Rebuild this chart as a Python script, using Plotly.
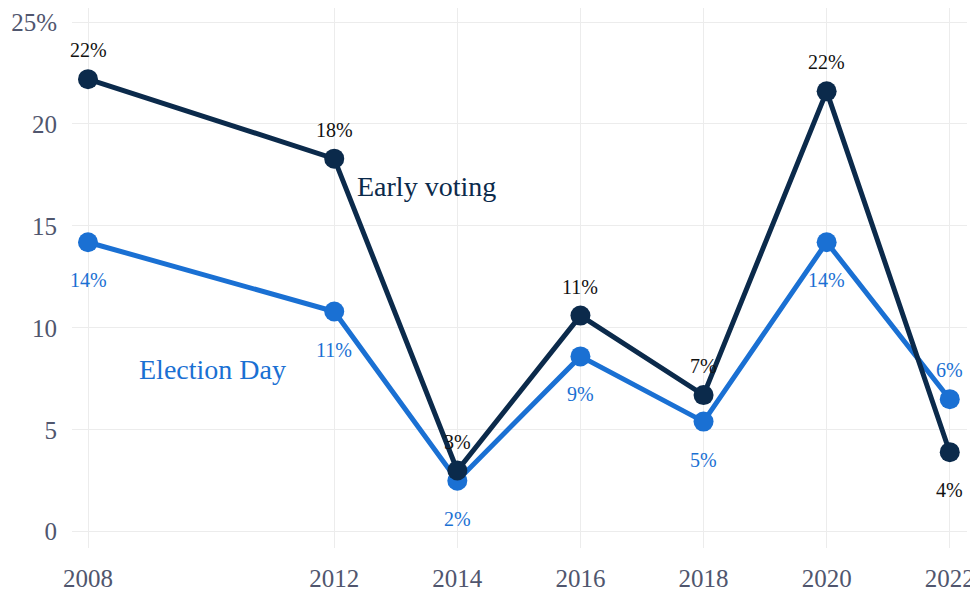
import plotly.graph_objects as go

years = [2008, 2012, 2014, 2016, 2018, 2020, 2022]
early_voting = [22.2, 18.3, 3.0, 10.6, 6.7, 21.6, 3.9]
election_day = [14.2, 10.8, 2.5, 8.6, 5.4, 14.2, 6.5]
early_labels = ["22%", "18%", "3%", "11%", "7%", "22%", "4%"]
day_labels = ["14%", "11%", "2%", "9%", "5%", "14%", "6%"]
early_above = [True, True, True, True, True, True, False]
day_above = [False, False, False, False, False, False, True]
y_ticks = [0, 5, 10, 15, 20, 25]
y_ticktext = ["0", "5", "10", "15", "20", "25%"]

NAVY = "#0b2a4b"
BLUE = "#1a70d3"
FONT = "Liberation Serif"

fig = go.Figure()
for values, color in [(election_day, BLUE), (early_voting, NAVY)]:
    fig.add_trace(go.Scatter(
        x=years, y=values, mode="lines+markers",
        line=dict(color=color, width=5),
        marker=dict(color=color, size=20),
        cliponaxis=False, showlegend=False, hoverinfo="x+y",
    ))

# point labels, placed above or below each marker
for values, labels, above, color in [
    (early_voting, early_labels, early_above, "#111111"),
    (election_day, day_labels, day_above, BLUE),
]:
    for x, y, t, up in zip(years, values, labels, above):
        fig.add_annotation(x=x, y=y, text=t, showarrow=False,
                           yshift=29 if up else -38,
                           font=dict(color=color, size=20, family=FONT))

fig.add_annotation(x=2013.5, y=16.95, text="Early voting", showarrow=False,
                   font=dict(color=NAVY, size=28, family=FONT))
fig.add_annotation(x=2010.02, y=7.95, text="Election Day", showarrow=False,
                   font=dict(color=BLUE, size=28, family=FONT))

# page body has an 8px margin, so the figure is sized/offset to compensate
fig.update_layout(
    width=970, height=589,
    margin=dict(l=64, r=11, t=0, b=49),
    plot_bgcolor="white", paper_bgcolor="white",
    font=dict(family=FONT, color="#50566e", size=25),
    xaxis=dict(range=[2007.74, 2022.28], tickvals=years, showgrid=True,
               gridcolor="#ececec", zeroline=False, ticks="", ticklabelstandoff=13),
    yaxis=dict(range=[-0.8, 25.69], tickvals=y_ticks, ticktext=y_ticktext,
               showgrid=True, gridcolor="#ececec", zeroline=False, ticks="",
               ticklabelstandoff=14),
)

fig.write_html("out.html")
